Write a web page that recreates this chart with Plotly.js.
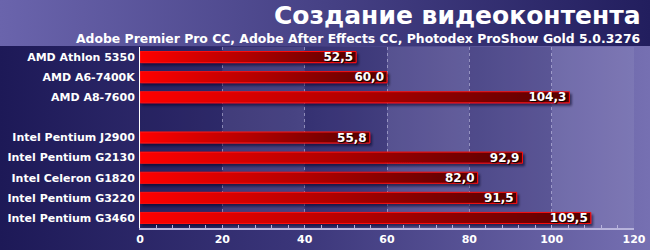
<!DOCTYPE html>
<html>
<head>
<meta charset="utf-8">
<script src="https://cdn.plot.ly/plotly-3.0.1.min.js"></script>
<style>
html,body{margin:0;padding:0;width:650px;height:250px;overflow:hidden;}
body{background:
  linear-gradient(to right,#6a64ac,#221e5e) top left/100% 46px no-repeat,
  linear-gradient(to right,#1d1957,#3a3579 45%,#7670b2);}
#chart{width:650px;height:250px;}
</style>
</head>
<body>
<div id="chart"></div>
<script>
const categories = ['AMD Athlon 5350','AMD A6-7400K','AMD A8-7600',' ','Intel Pentium J2900','Intel Pentium G2130','Intel Celeron G1820','Intel Pentium G3220','Intel Pentium G3460'];
const values = [52.5, 60.0, 104.3, null, 55.8, 92.9, 82.0, 91.5, 109.5];
const xTicks = [0, 20, 40, 60, 80, 100, 120];
const titleText = 'Создание видеоконтента';
const subtitleText = 'Adobe Premier Pro CC, Adobe After Effects CC, Photodex ProShow Gold 5.0.3276';

const labels = values.map(v => v === null ? '' : v.toFixed(1).replace('.', ','));
const FONT = 'DejaVu Sans, Verdana, sans-serif';

const trace = {
  type: 'bar',
  orientation: 'h',
  y: categories,
  x: values,
  text: labels,
  textposition: 'inside',
  insidetextanchor: 'end',
  constraintext: 'none',
  textangle: 0,
  textfont: {family: FONT, size: 12, color: '#ffffff', weight: 'bold', shadow: '1px 1px 1px #000'},
  marker: {color: '#c00000', line: {color: '#ff1010', width: 1}},
  cliponaxis: false,
  hoverinfo: 'skip'
};

const bands = [];
for (let i = 0; i < xTicks.length - 1; i++) {
  bands.push({type: 'rect', xref: 'x', yref: 'paper', x0: xTicks[i], x1: xTicks[i+1], y0: 0, y1: 1,
    line: {width: 0}, fillcolor: i % 2 === 0 ? 'rgba(0,0,40,0.10)' : 'rgba(255,255,255,0.07)', layer: 'below'});
}

const layout = {
  width: 650, height: 250,
  margin: {l: 140, r: 16, t: 47, b: 22},
  paper_bgcolor: 'rgba(0,0,0,0)',
  plot_bgcolor: 'rgba(0,0,0,0)',
  showlegend: false,
  bargap: 0.45,
  font: {family: FONT, color: '#ffffff'},
  xaxis: {
    range: [0, 120], tickvals: xTicks, ticktext: xTicks.map(String),
    showgrid: true, gridcolor: 'rgba(230,230,255,0.45)', griddash: 'dot', gridwidth: 1,
    zeroline: false, showline: true, linecolor: '#b8b4dc', linewidth: 2,
    ticks: 'inside', ticklen: 3, tickcolor: '#b8b4dc',
    minor: {dtick: 4, ticks: 'inside', ticklen: 3, tickcolor: '#b8b4dc', showgrid: false},
    tickfont: {family: FONT, size: 11, color: '#ffffff', weight: 'bold'},
    fixedrange: true
  },
  yaxis: {
    type: 'category', autorange: 'reversed',
    showgrid: false, zeroline: false, showline: true, linecolor: '#ffffff', linewidth: 1,
    ticks: '', ticklabelstandoff: 2,
    tickfont: {family: FONT, size: 11, color: '#ffffff', weight: 'bold'},
    fixedrange: true
  },
  shapes: bands,
  annotations: [
    {text: titleText, xref: 'paper', yref: 'paper', x: 1, xshift: 9, y: 1, yshift: 48, xanchor: 'right', yanchor: 'top',
     showarrow: false, font: {family: FONT, size: 25, color: '#ffffff', weight: 'bold'}},
    {text: subtitleText, xref: 'paper', yref: 'paper', x: 1, xshift: 8, y: 1, yshift: 18, xanchor: 'right', yanchor: 'top',
     showarrow: false, font: {family: FONT, size: 12.4, color: '#ffffff', weight: 'bold'}}
  ]
};

Plotly.newPlot('chart', [trace], layout, {staticPlot: true, displayModeBar: false}).then(gd => {
  const svg = gd.querySelector('.main-svg');
  const ns = 'http://www.w3.org/2000/svg';
  const defs = document.createElementNS(ns, 'defs');
  defs.innerHTML =
    '<linearGradient id="barGrad" x1="0" y1="0" x2="1" y2="0">' +
    '<stop offset="0" stop-color="#ff0000"/><stop offset="0.5" stop-color="#b00000"/><stop offset="1" stop-color="#560004"/></linearGradient>' +
    '<filter id="barShadow" x="-5%" y="-30%" width="110%" height="180%">' +
    '<feDropShadow dx="2" dy="2.5" stdDeviation="1" flood-color="#000020" flood-opacity="0.55"/></filter>';
  svg.insertBefore(defs, svg.firstChild);
  gd.querySelectorAll('.barlayer .point path').forEach(p => {
    p.style.fill = 'url(#barGrad)';
    p.setAttribute('filter', 'url(#barShadow)');
  });
});
</script>
</body>
</html>
